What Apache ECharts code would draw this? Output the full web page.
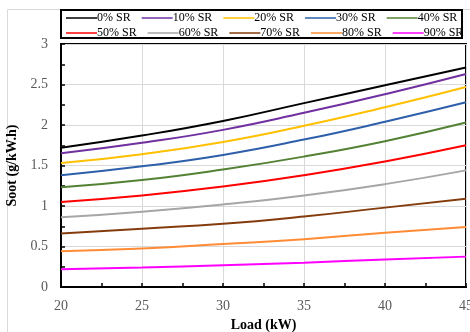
<!DOCTYPE html>
<html><head><meta charset="utf-8">
<script src="https://cdn.jsdelivr.net/npm/echarts@6/dist/echarts.min.js"></script>
<style>html,body{margin:0;padding:0;background:#fff}#c{width:470px;height:332px}</style>
</head><body><div id="c"></div>
<script>
const loads = [20, 25, 30, 35, 40, 45];
const seriesNames = ['0% SR','10% SR','20% SR','30% SR','40% SR','50% SR','60% SR','70% SR','80% SR','90% SR'];
const colors = ['#000000','#7030a0','#ffc000','#2e5faa','#548235','#ff0000','#a6a6a6','#843c0c','#ff8c35','#ff00ff'];
const sr0  = [1.72, 1.87, 2.05, 2.27, 2.49, 2.71];
const sr10 = [1.65, 1.78, 1.94, 2.15, 2.38, 2.63];
const sr20 = [1.53, 1.64, 1.79, 1.99, 2.22, 2.47];
const sr30 = [1.38, 1.49, 1.63, 1.82, 2.04, 2.28];
const sr40 = [1.23, 1.32, 1.45, 1.61, 1.80, 2.03];
const sr50 = [1.05, 1.13, 1.24, 1.38, 1.55, 1.75];
const sr60 = [0.86, 0.93, 1.02, 1.13, 1.27, 1.44];
const sr70 = [0.66, 0.72, 0.78, 0.87, 0.98, 1.09];
const sr80 = [0.44, 0.475, 0.53, 0.59, 0.67, 0.74];
const sr90 = [0.22, 0.24, 0.27, 0.30, 0.34, 0.375];
const allValues = [sr0, sr10, sr20, sr30, sr40, sr50, sr60, sr70, sr80, sr90];

const font = 'Liberation Serif';
const series = seriesNames.map((n, i) => ({
  name: n, type: 'line', smooth: true, symbol: 'none',
  data: loads.map((x, j) => [x, allValues[i][j]]),
  lineStyle: { color: colors[i], width: 2 }, itemStyle: { color: colors[i] }
}));
const icon = 'path://M0,4.5L31,4.5L31,6L0,6Z';
const legendCommon = {
  itemWidth: 31, itemHeight: 10, itemGap: 11, padding: 0,
  textStyle: { fontFamily: font, fontSize: 12, color: '#000', width: 45, padding: [0,0,0,-5] },
  left: 66
};
const chart = echarts.init(document.getElementById('c'));
chart.setOption({
  animation: false,
  color: colors,
  graphic: [
    { type: 'rect', shape: { x: 7.5, y: 9.5, width: 480, height: 340 }, style: { fill: 'none', stroke: '#d9d9d9', lineWidth: 1 }, z: -1 },
    { type: 'rect', shape: { x: 61, y: 10, width: 401, height: 28 }, style: { fill: 'none', stroke: '#000', lineWidth: 2 } }
  ],
  legend: [
    Object.assign({}, legendCommon, { top: 12, data: seriesNames.slice(0,5).map(n => ({name: n, icon: icon})) }),
    Object.assign({}, legendCommon, { top: 27, data: seriesNames.slice(5).map(n => ({name: n, icon: icon})) })
  ],
  grid: { left: 61, right: 4, top: 44, bottom: 45, show: true, borderColor: '#000', borderWidth: 2, outerBoundsMode: 'none', containLabel: false },
  xAxis: {
    type: 'value', min: 20, max: 45, interval: 5,
    name: 'Load (kW)', nameLocation: 'middle', nameGap: 27,
    nameTextStyle: { fontFamily: font, fontSize: 14, fontWeight: 'bold', color: '#000' },
    axisLine: { lineStyle: { color: '#000', width: 2 } },
    axisTick: { show: true, inside: true, length: 4, lineStyle: { color: '#000', width: 1.5 } },
    minorTick: { show: true, splitNumber: 2, length: 4, lineStyle: { color: '#000', width: 1.5 } },
    axisLabel: { fontFamily: font, fontSize: 14, color: '#595959', margin: 12 },
    splitLine: { show: true, lineStyle: { color: '#d9d9d9', width: 1 } }
  },
  yAxis: {
    type: 'value', min: 0, max: 3, interval: 0.5,
    name: 'Soot (g/kW.h)', nameLocation: 'middle', nameGap: 35, nameRotate: 90,
    nameTextStyle: { fontFamily: font, fontSize: 14, fontWeight: 'bold', color: '#000' },
    axisLine: { show: true, lineStyle: { color: '#000', width: 2 } },
    axisTick: { show: true, inside: true, length: 4, lineStyle: { color: '#000', width: 1.5 } },
    minorTick: { show: true, splitNumber: 2, length: 4, lineStyle: { color: '#000', width: 1.5 } },
    axisLabel: { fontFamily: font, fontSize: 14, color: '#595959', margin: 13 },
    splitLine: { show: true, lineStyle: { color: '#d9d9d9', width: 1 } }
  },
  series: series
});
</script></body></html>
